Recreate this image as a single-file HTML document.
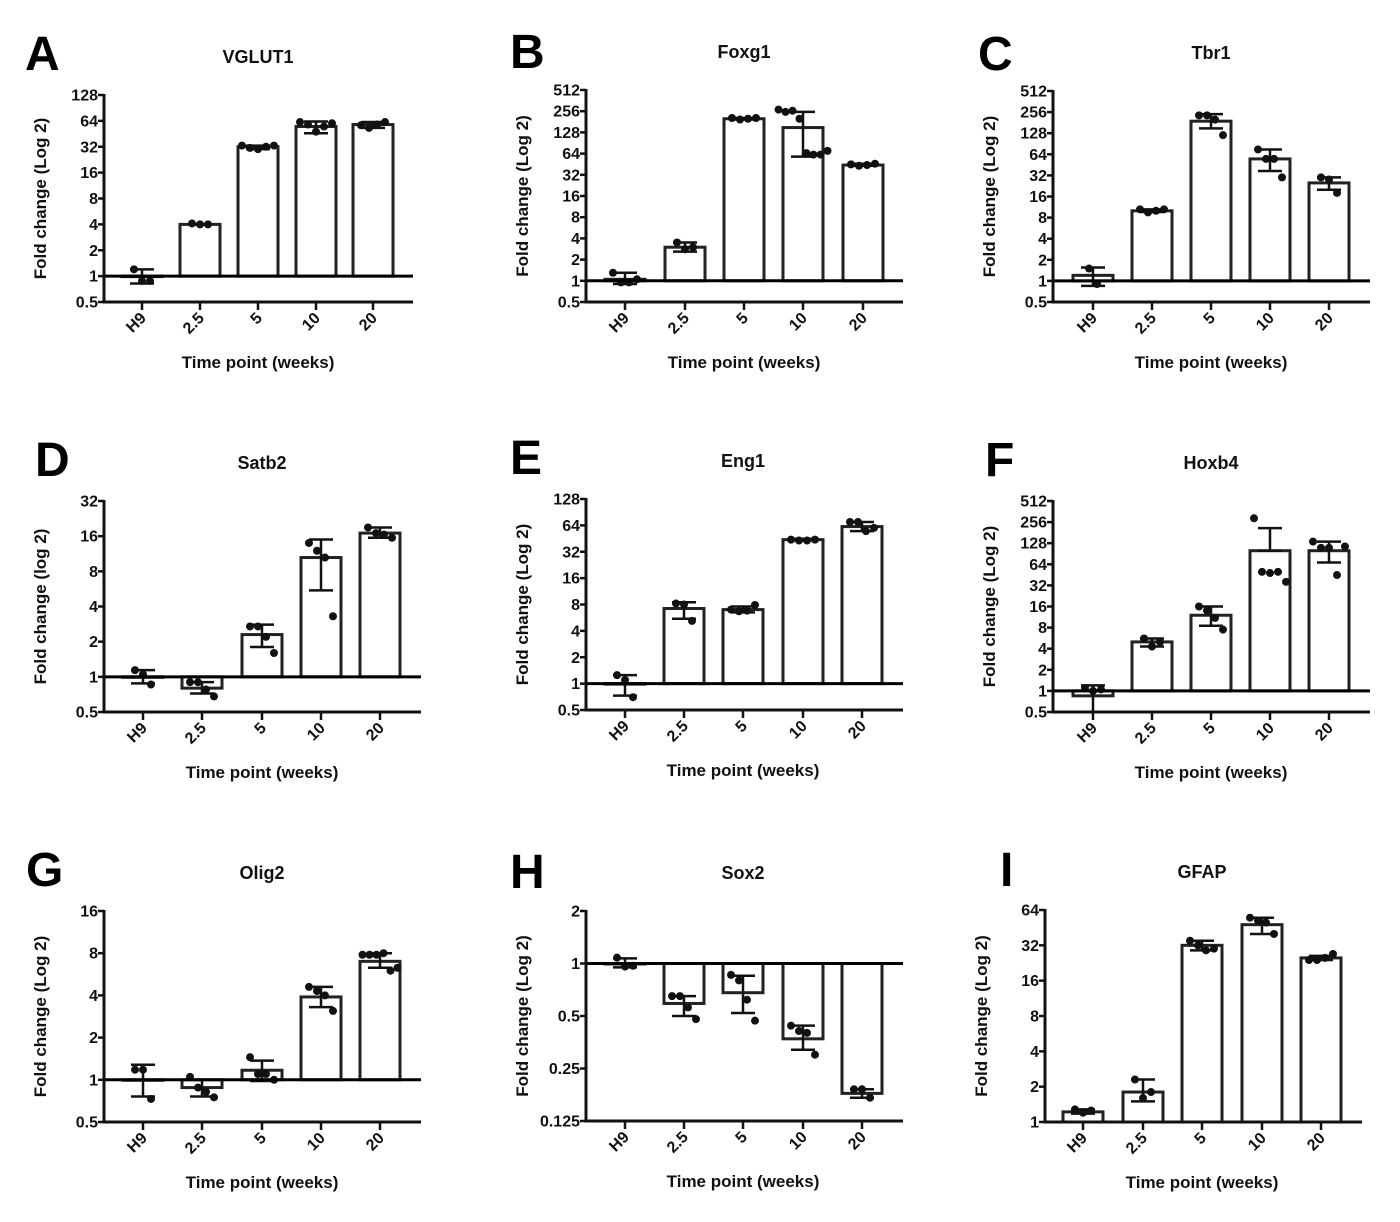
<!DOCTYPE html>
<html><head><meta charset="utf-8"><style>
body{margin:0;background:#fff;}
svg{display:block;font-family:"Liberation Sans",sans-serif;}
</style></head><body>
<svg id="fig" width="1400" height="1222" viewBox="0 0 1400 1222"></svg>
<script>
const categories = ["H9","2.5","5","10","20"];
// A VGLUT1
const aMeans=[1,4,32,55,58]; const aLo=[0.82,4,30,46,53]; const aHi=[1.2,4,33,63,62];
const aPts=[[1.2,0.88,0.88],[4.1,4,4],[33,31,30,32,33],[62,58,48,55,60],[57,53,58,62]];
const aTicks=["0.5","1","2","4","8","16","32","64","128"];
// B Foxg1
const bMeans=[1.05,3,200,150,44]; const bLo=[0.9,2.6,195,58,43]; const bHi=[1.3,3.5,205,250,46];
const bPts=[[1.3,0.95,0.95,1.05],[3.5,2.8,3.0],[205,195,200,205],[270,250,260,200,65,62,62,70],[45,43,44,46]];
const bTicks=["0.5","1","2","4","8","16","32","64","128","256","512"];
// C Tbr1
const cMeans=[1.2,10,190,55,25]; const cLo=[0.85,9.6,150,37,20]; const cHi=[1.55,10.5,240,75,30];
const cPts=[[1.5,0.9],[10.5,9.5,10,10.5],[230,230,200,120],[75,55,55,30],[30,28,18]];
const cTicks=bTicks;
// D Satb2
const dMeans=[1,0.8,2.3,10.5,17]; const dLo=[0.88,0.72,1.8,5.5,15.5]; const dHi=[1.14,0.9,2.8,15,19];
const dPts=[[1.14,1.05,0.86],[0.9,0.9,0.78,0.68],[2.7,2.7,2.2,1.6],[14,12,10.5,3.3],[19,17,16.5,15.5]];
const dTicks=["0.5","1","2","4","8","16","32"];
// E Eng1
const eMeans=[1,7.2,7,44,62]; const eLo=[0.73,5.5,6.5,43,55]; const eHi=[1.25,8.5,7.6,45,70];
const ePts=[[1.25,1.1,0.7],[8.2,8.0,5.2],[7,6.7,6.8,7.9],[44,43,43,44],[70,70,55,60]];
const eTicks=aTicks;
// F Hoxb4
const fMeans=[0.85,5,12,100,100]; const fLo=[0.5,4.3,8.5,100,68]; const fHi=[1.2,5.6,16,210,135];
const fPts=[[1.1,1,1.05],[5.6,4.3,5],[16,14,11,7.5],[290,50,48,50,36],[135,110,110,45,115]];
const fTicks=bTicks;
// G Olig2
const gMeans=[1,0.88,1.17,3.9,7]; const gLo=[0.76,0.76,0.98,3.3,6.3]; const gHi=[1.28,1.0,1.37,4.6,8];
const gPts=[[1.18,1.18,0.73],[1.05,0.88,0.82,0.75],[1.45,1.1,1.1,1.0],[4.6,4.3,4.0,3.1],[7.8,7.8,7.8,8.0,6.0,6.3]];
const gTicks=["0.5","1","2","4","8","16"];
// H Sox2
const hMeans=[1,0.59,0.68,0.37,0.18]; const hLo=[0.95,0.5,0.52,0.32,0.17]; const hHi=[1.07,0.65,0.85,0.44,0.19];
const hPts=[[1.08,0.96,0.97],[0.65,0.65,0.56,0.48],[0.86,0.8,0.62,0.47],[0.44,0.41,0.4,0.30],[0.19,0.19,0.17]];
const hTicks=["0.125","0.25","0.5","1","2"];
// I GFAP
const iMeans=[1.22,1.8,32,48,25]; const iLo=[1.18,1.5,29,40,24]; const iHi=[1.28,2.3,35,55,26];
const iPts=[[1.28,1.2,1.25],[2.3,1.6,1.8],[35,32,29,30],[55,52,50,40],[24,24,25,27]];
const iTicks=["1","2","4","8","16","32","64"];

const NS="http://www.w3.org/2000/svg";
const svg=document.getElementById('fig');
function mk(tag,attrs,parent,text){const e=document.createElementNS(NS,tag);for(const k in attrs)e.setAttribute(k,attrs[k]);if(text!==undefined)e.textContent=text;(parent||svg).appendChild(e);return e;}

const panels=[
 {L:"A",t:"VGLUT1",ax:104,top:95,bot:302,xe:413,cx:[142,200,258,316,373],lx:25,ly:70,means:aMeans,lo:aLo,hi:aHi,pts:aPts,ticks:aTicks,yl:"Fold change (Log 2)"},
 {L:"B",t:"Foxg1",ax:586,top:90,bot:302,xe:903,cx:[625,685,744,803,863],lx:510,ly:68,means:bMeans,lo:bLo,hi:bHi,pts:bPts,ticks:bTicks,yl:"Fold change (Log 2)"},
 {L:"C",t:"Tbr1",ax:1053,top:91,bot:302,xe:1370,cx:[1093,1152,1211,1270,1329],lx:978,ly:70,means:cMeans,lo:cLo,hi:cHi,pts:cPts,ticks:cTicks,yl:"Fold change (Log 2)"},
 {L:"D",t:"Satb2",ax:104,top:501,bot:712,xe:421,cx:[143,202,262,321,380],lx:35,ly:476,means:dMeans,lo:dLo,hi:dHi,pts:dPts,ticks:dTicks,yl:"Fold change (log 2)"},
 {L:"E",t:"Eng1",ax:586,top:499,bot:710,xe:903,cx:[625,684,743,803,862],lx:510,ly:474,means:eMeans,lo:eLo,hi:eHi,pts:ePts,ticks:eTicks,yl:"Fold change (Log 2)"},
 {L:"F",t:"Hoxb4",ax:1053,top:501,bot:712,xe:1370,cx:[1093,1152,1211,1270,1329],lx:985,ly:476,means:fMeans,lo:fLo,hi:fHi,pts:fPts,ticks:fTicks,yl:"Fold change (Log 2)"},
 {L:"G",t:"Olig2",ax:104,top:911,bot:1122,xe:421,cx:[143,202,262,321,380],lx:26,ly:886,means:gMeans,lo:gLo,hi:gHi,pts:gPts,ticks:gTicks,yl:"Fold change (Log 2)"},
 {L:"H",t:"Sox2",ax:586,top:911,bot:1121,xe:903,cx:[625,684,743,803,862],lx:510,ly:888,means:hMeans,lo:hLo,hi:hHi,pts:hPts,ticks:hTicks,yl:"Fold change (Log 2)"},
 {L:"I",t:"GFAP",ax:1045,top:910,bot:1122,xe:1362,cx:[1083,1143,1202,1262,1321],lx:1000,ly:886,means:iMeans,lo:iLo,hi:iHi,pts:iPts,ticks:iTicks,yl:"Fold change (Log 2)"}
];

panels.forEach(p=>{
  const g=mk('g',{});
  
  
  const tmin=Math.log2(parseFloat(p.ticks[0])), tmax=Math.log2(parseFloat(p.ticks[p.ticks.length-1]));
  const y=v=>p.bot-(Math.log2(v)-tmin)/(tmax-tmin)*(p.bot-p.top);
  const letter=mk('text',{x:p.lx,y:p.ly,'font-size':48,'font-weight':'bold',fill:'#000'},g,p.L);
  
  
  const title=mk('text',{x:p.cx[2],y:p.top-32,'font-size':18,'font-weight':'bold','text-anchor':'middle',fill:'#111'},g,p.t);
  
  
  const by=y(1);
  p.means.forEach((m,i)=>{
    const yt=Math.min(y(m),by), yb=Math.max(y(m),by);
    const r=mk('rect',{x:p.cx[i]-20,y:yt,width:40,height:Math.max(yb-yt,0.5),fill:'#fff',stroke:'#222','stroke-width':3},g);
    
    
  });
  p.means.forEach((m,i)=>{
    const c=p.cx[i];
    const e=mk('g',{stroke:'#111','stroke-width':2.5},g);
    
    
    mk('line',{x1:c,x2:c,y1:y(p.lo[i]),y2:y(p.hi[i])},e);
    mk('line',{x1:c-12,x2:c+12,y1:y(p.lo[i]),y2:y(p.lo[i])},e);
    mk('line',{x1:c-12,x2:c+12,y1:y(p.hi[i]),y2:y(p.hi[i])},e);
  });
  p.pts.forEach((arr,i)=>{
    const n=arr.length;
    arr.forEach((v,j)=>{
      const off=n>1?(j-(n-1)/2)*(n>5?7:8):0;
      const d=mk('circle',{cx:p.cx[i]+off,cy:y(v),r:4,fill:'#111'},g);
      
      
    });
  });
  const bl=mk('line',{x1:p.ax,x2:p.xe,y1:by,y2:by,stroke:'#000','stroke-width':3},g);
  
  
  const ya=mk('line',{x1:p.ax,x2:p.ax,y1:p.top-1,y2:p.bot+1.5,stroke:'#111','stroke-width':3},g);
  
  
  const xa=mk('line',{x1:p.ax-1.5,x2:p.xe,y1:p.bot,y2:p.bot,stroke:'#111','stroke-width':3},g);
  
  
  p.ticks.forEach(t=>{
    const ty=y(parseFloat(t));
    mk('line',{x1:p.ax-6,x2:p.ax,y1:ty,y2:ty,stroke:'#111','stroke-width':2.5},g);
    const tl=mk('text',{x:p.ax-6,y:ty+5.5,'font-size':16,'font-weight':'bold','text-anchor':'end',fill:'#111'},g,t);
    
    
  });
  categories.forEach((c,i)=>{
    const x=p.cx[i];
    mk('line',{x1:x,x2:x,y1:p.bot,y2:p.bot+8,stroke:'#111','stroke-width':2.5},g);
    const tl=mk('text',{x:x+5,y:p.bot+17,'font-size':16,'font-weight':'bold','text-anchor':'end',fill:'#111',transform:`rotate(-45 ${x+5} ${p.bot+17})`},g,c);
    
    
  });
  const yt=(p.top+p.bot)/2;
  const ylab=mk('text',{x:p.ax-58,y:yt,'font-size':17,'font-weight':'bold','text-anchor':'middle',fill:'#111',transform:`rotate(-90 ${p.ax-58} ${yt})`},g,p.yl);
  
  
  const xlab=mk('text',{x:p.cx[2],y:p.bot+66,'font-size':17,'font-weight':'bold','text-anchor':'middle',fill:'#111'},g,'Time point (weeks)');
  
  
});
</script>
</body></html>
